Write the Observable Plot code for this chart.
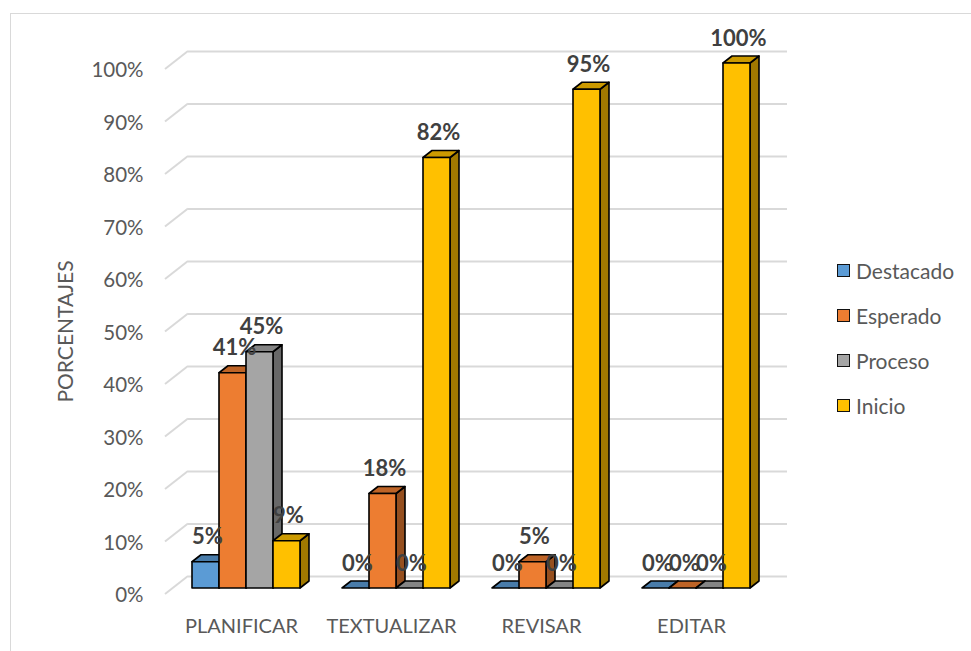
<!DOCTYPE html>
<html>
<head>
<meta charset="utf-8">
<script src="https://cdn.jsdelivr.net/npm/d3@7"></script>
<script src="https://cdn.jsdelivr.net/npm/@observablehq/plot@0.6"></script>
<style>
  html, body { margin: 0; padding: 0; background: #fff; overflow: hidden; }
  #wrap { position: relative; width: 971px; height: 651px; overflow: hidden; font-family: Lato, sans-serif; }
  #frame { position: absolute; left: 10px; top: 13px; width: 1000px; height: 700px; border: 1.5px solid #d9d9d9; box-sizing: border-box; }
  #chart { position: absolute; left: 0; top: 0; }
  #legend { position: absolute; left: 837px; top: 258px; color: #595959; font-size: 21px; }
  .item { display: flex; align-items: center; height: 24px; margin-bottom: 21px; }
  .sw { width: 11px; height: 11px; border: 1.6px solid #111; margin-right: 6px; }
</style>
</head>
<body>
<div id="wrap">
  <div id="frame"></div>
  <div id="chart"></div>
  <div id="legend"></div>
</div>
<script>
// ---- data ----
const categories = ["PLANIFICAR", "TEXTUALIZAR", "REVISAR", "EDITAR"];
const series = ["Destacado", "Esperado", "Proceso", "Inicio"];
const destacado = [0.05, 0.00, 0.00, 0.00];
const esperado  = [0.41, 0.18, 0.05, 0.00];
const proceso   = [0.45, 0.00, 0.00, 0.00];
const inicio    = [0.09, 0.82, 0.95, 1.00];
const colors = ["#5B9BD5", "#ED7D31", "#A5A5A5", "#FFC000"];
const yTicks = [0, 0.1, 0.2, 0.3, 0.4, 0.5, 0.6, 0.7, 0.8, 0.9, 1.0];
const yTitle = "PORCENTAJES";

const seriesValues = [destacado, esperado, proceso, inicio];
const rows = [];
categories.forEach((cat, ci) => {
  series.forEach((s, si) => rows.push({cat, series: s, si, value: seriesValues[si][ci]}));
});

const fmt = d3.format(".0%");
const DX = 9, DY = -7;          // 3D depth offset of bars
const GX = -23, GY = 18;        // floor/wall offset for gridline diagonals

function shade(c, k) {
  const col = d3.rgb(c);
  return d3.rgb(col.r * k, col.g * k, col.b * k).formatHex();
}

function wallDiagonals(index, scales, values, dimensions) {
  const y = scales.y;
  const g = d3.create("svg:g").attr("stroke", "#d9d9d9").attr("stroke-width", 2).attr("fill", "none");
  const xl = dimensions.marginLeft;
  for (const v of yTicks) {
    const yy = y(v) - 12;
    g.append("line").attr("x1", xl + GX).attr("y1", yy + GY).attr("x2", xl).attr("y2", yy);
  }
  return g.node();
}

function bars3d(index, scales) {
  const x = scales.x, y = scales.y;
  const band = x.bandwidth ? x.bandwidth() : (x(categories[1]) - x(categories[0])) * 0.72;
  const bw = band / series.length;
  const g = d3.create("svg:g")
    .attr("stroke", "#000").attr("stroke-width", 1.6).attr("stroke-linejoin", "round");
  const labels = d3.create("svg:g")
    .attr("font-family", "Lato, sans-serif").attr("font-weight", "bold")
    .attr("font-size", 22).attr("fill", "#404040").attr("text-anchor", "middle");
  for (const r of rows) {
    const x0 = x(r.cat) + r.si * bw, x1 = x0 + bw;
    const yb = y(0), yt = y(r.value);
    const c = colors[r.si];
    // side face
    g.append("path")
      .attr("d", `M${x1},${yt}L${x1 + DX},${yt + DY}L${x1 + DX},${yb + DY}L${x1},${yb}Z`)
      .attr("fill", shade(c, 0.63));
    // top face
    g.append("path")
      .attr("d", `M${x0},${yt}L${x0 + DX},${yt + DY}L${x1 + DX},${yt + DY}L${x1},${yt}Z`)
      .attr("fill", shade(c, 0.8));
    // front face
    if (yb - yt > 0) {
      g.append("rect").attr("x", x0).attr("y", yt).attr("width", bw).attr("height", yb - yt).attr("fill", c);
    }
    labels.append("text")
      .attr("x", x0 + bw / 2 + 2).attr("y", yt - 25).attr("dy", "0.35em")
      .text(fmt(r.value));
  }
  const root = d3.create("svg:g");
  root.append(() => g.node());
  root.append(() => labels.node());
  return root.node();
}

const plot = Plot.plot({
  width: 971,
  height: 651,
  marginTop: 63,
  marginBottom: 63,
  marginLeft: 188,
  marginRight: 184,
  style: {fontFamily: "Lato, sans-serif", fontSize: "20.5px", color: "#595959", background: "transparent", overflow: "visible"},
  x: {type: "band", domain: categories, range: [171, 771], paddingInner: 0.28, paddingOuter: 0.14, label: null},
  y: {domain: [0, 1], label: null},
  marks: [
    Plot.ruleY(yTicks, {stroke: "#d9d9d9", strokeWidth: 2, dy: -12}),
    wallDiagonals,
    Plot.axisY(yTicks, {tickSize: 0, tickPadding: 45, dy: 7, tickFormat: fmt, fontSize: 20.5, label: null}),
    Plot.axisX({tickSize: 0, tickPadding: 30, dx: -5, fontSize: 20, label: null}),
    Plot.text([yTitle], {frameAnchor: "left", textAnchor: "middle", rotate: -90, dx: -122, dy: 5.5, fontSize: 21, fill: "#595959"}),
    bars3d
  ]
});
document.getElementById("chart").appendChild(plot);

// legend
const legend = d3.select("#legend");
series.forEach((s, i) => {
  const item = legend.append("div").attr("class", "item");
  item.append("div").attr("class", "sw").style("background", colors[i]);
  item.append("span").text(s);
});
</script>
</body>
</html>
